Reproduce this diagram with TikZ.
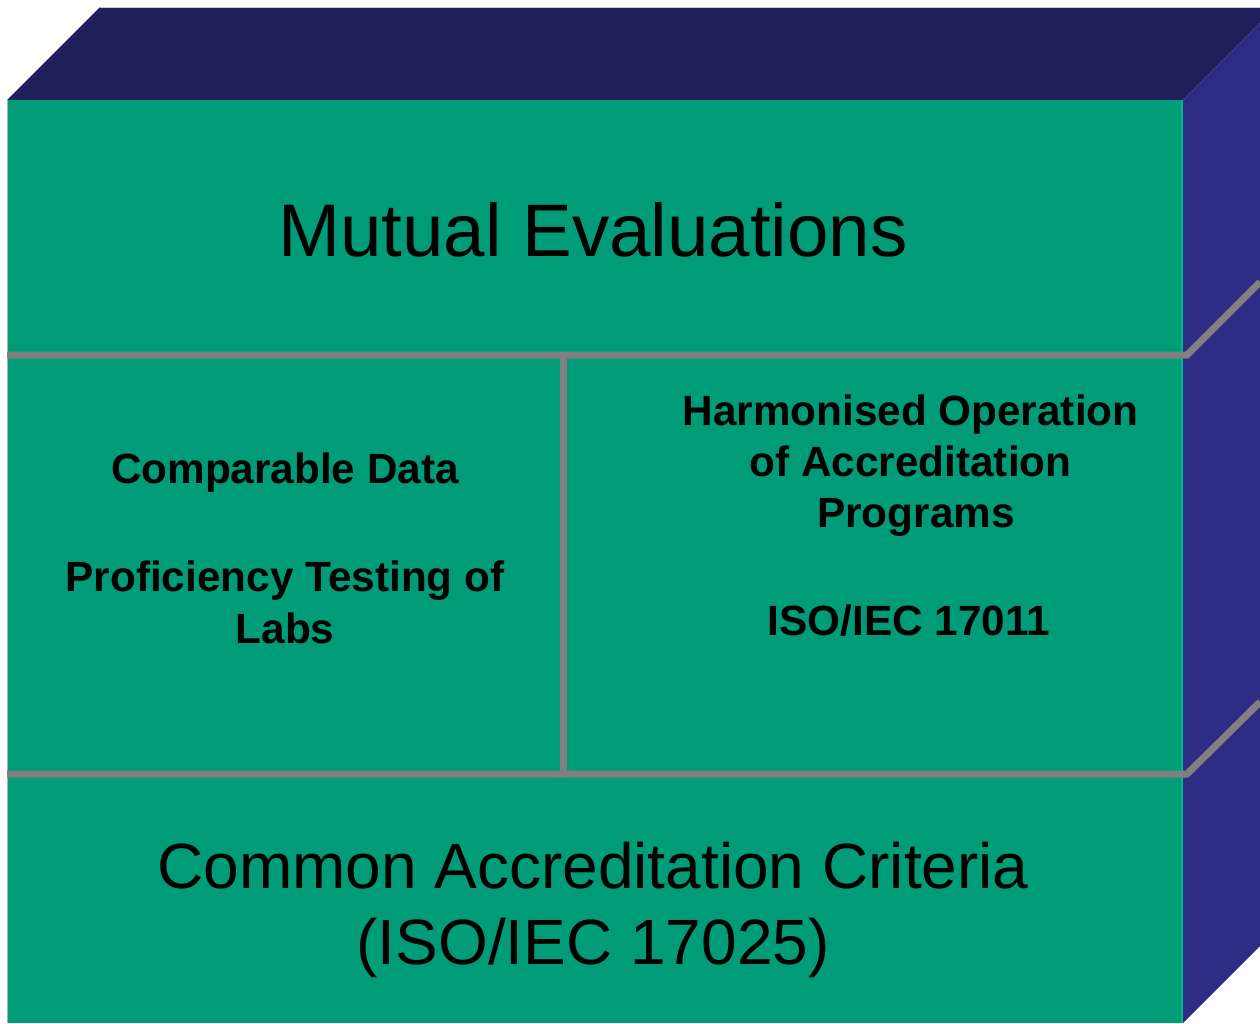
\documentclass[tikz,border=0pt]{standalone}
\usepackage{fontspec}
\setmainfont{Liberation Sans}
\definecolor{frontgreen}{HTML}{009B77}
\definecolor{edgegreen}{HTML}{00B88C}
\definecolor{topnavy}{HTML}{1F1F5C}
\definecolor{sideblue}{HTML}{2E2C84}
\definecolor{divgray}{HTML}{808080}
\begin{document}
\begin{tikzpicture}[x=1pt,y=-1pt,
  divider/.style={draw=divgray,line width=7pt,line cap=butt,line join=miter},
  bigtext/.style={anchor=base,inner sep=0pt,font=\fontsize{74.5}{89}\selectfont},
  midtext/.style={anchor=base,inner sep=0pt,font=\fontsize{64}{76}\selectfont},
  smalltext/.style={anchor=base,inner sep=0pt,font=\fontsize{42.3}{51}\selectfont\bfseries}]
\useasboundingbox (0,0) rectangle (1260,1023);
% top face
\fill[topnavy] (7,100) -- (100,7) -- (1260,7) -- (1260,23) -- (1183,100) -- cycle;
\draw[gray!40,line width=1pt] (100,7) -- (1260,7);
% right face
\fill[sideblue] (1183,100) -- (1260,23) -- (1260,946) -- (1183,1023) -- cycle;
% front face
\fill[frontgreen] (7,100) rectangle (1183,1023);
\draw[gray!60,line width=1pt] (7,100) -- (7,1023);
\draw[edgegreen,line width=2pt] (1182,100) -- (1182,1023);
% dividers
\coordinate (h1l) at (7,355);
\coordinate (h1r) at (1187,355);
\coordinate (h1e) at (1260,282);
\coordinate (h2l) at (7,774);
\coordinate (h2r) at (1187,774);
\coordinate (h2e) at (1260,702);
\coordinate (vt) at (563,355);
\coordinate (vb) at (563,774);
\draw[divider] (h1l) -- (h1r) -- (h1e);
\draw[divider] (h2l) -- (h2r) -- (h2e);
\draw[divider] (vt) -- (vb);
% texts
\node[bigtext] (mutual) at (593,256) {Mutual Evaluations};
\node[smalltext] (comp) at (285,483) {Comparable Data};
\node[smalltext] (prof) at (285,591) {Proficiency Testing of};
\node[smalltext] (labs) at (285,643) {Labs};
\node[smalltext] (harm) at (910.5,425) {Harmonised Operation};
\node[smalltext] (ofacc) at (910.5,476) {of Accreditation};
\node[smalltext] (prog) at (916,527) {Programs};
\node[smalltext] (iso11) at (909,635) {ISO/IEC 17011};
\node[midtext] (common) at (593,888) {Common Accreditation Criteria};
\node[midtext] (iso25) at (593,964) {(ISO/IEC 17025)};
\end{tikzpicture}
\end{document}
